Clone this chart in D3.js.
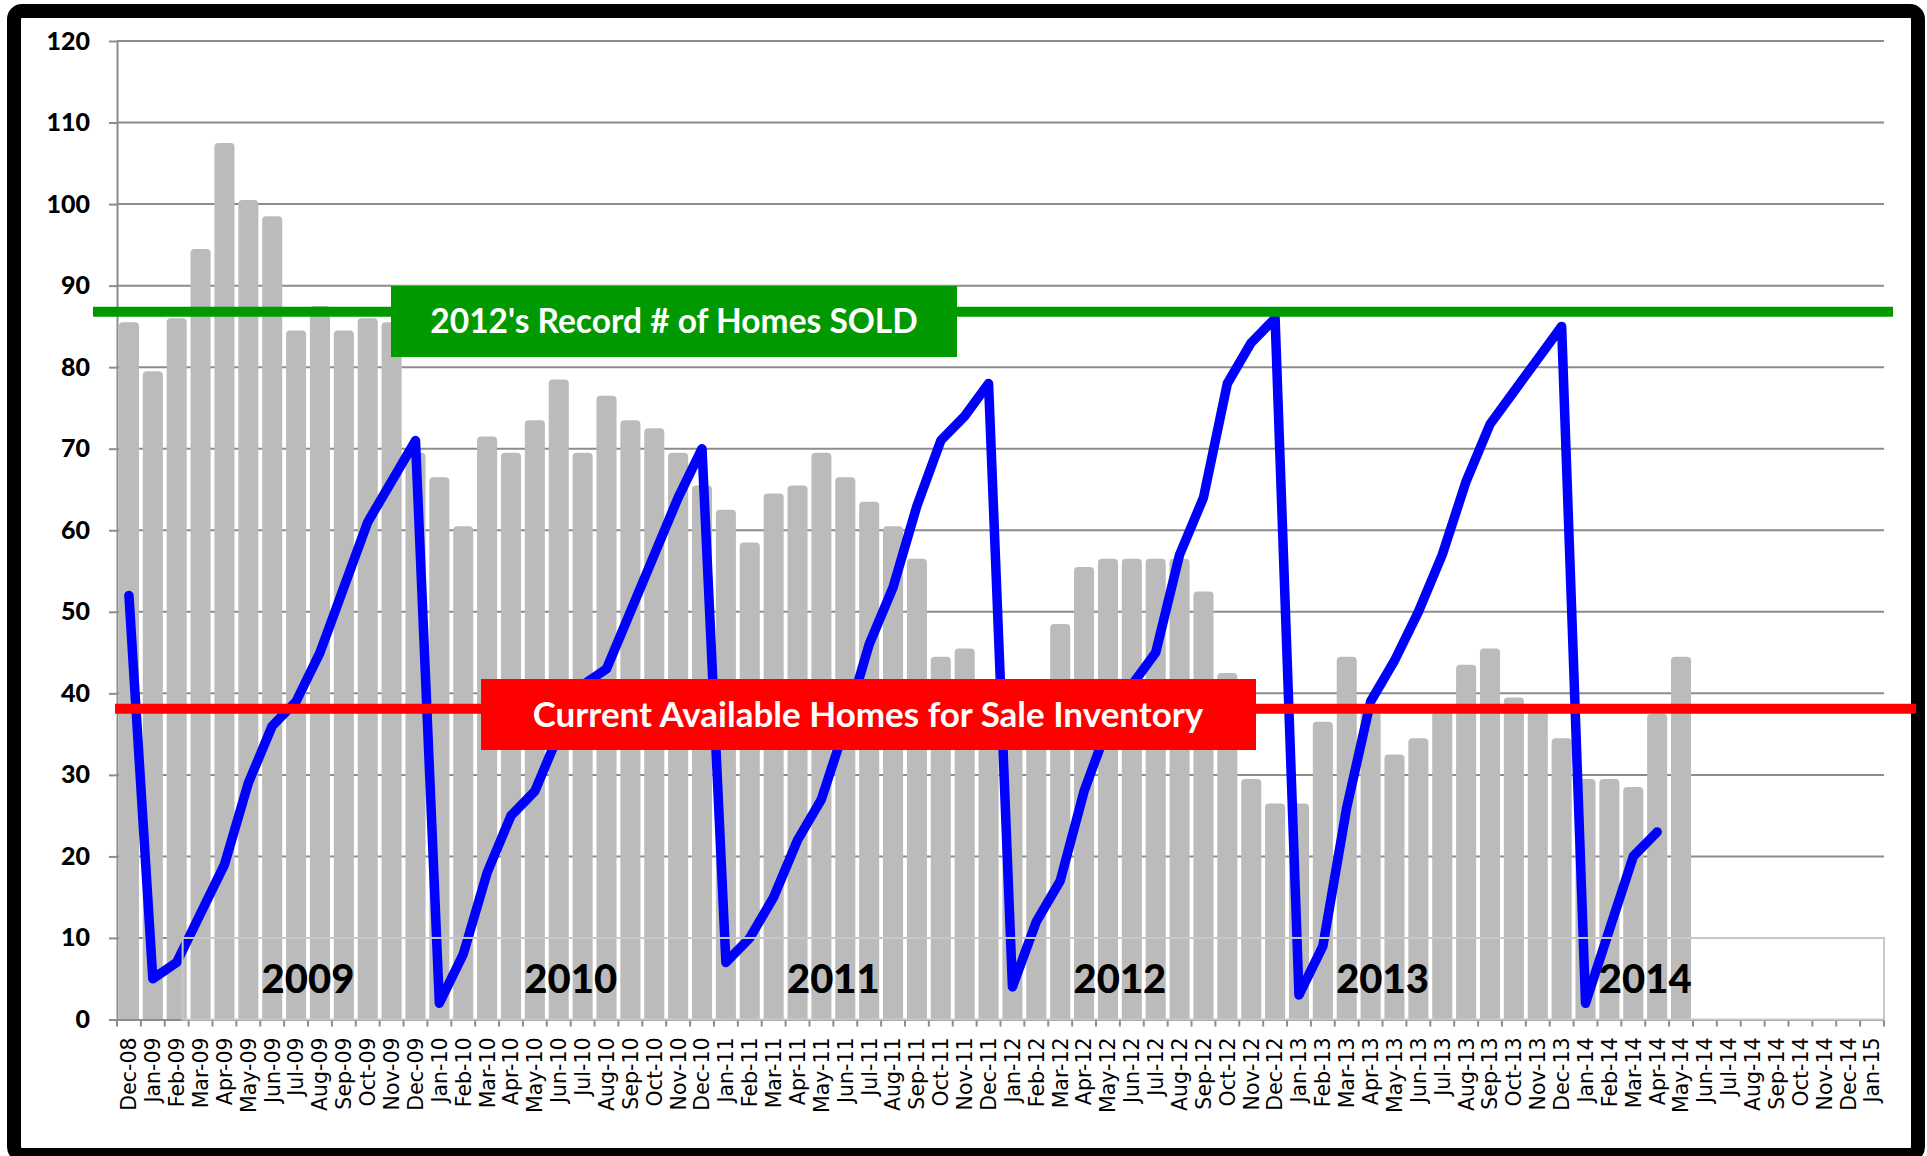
<!DOCTYPE html>
<html>
<head>
<meta charset="utf-8">
<script src="https://cdnjs.cloudflare.com/ajax/libs/d3/7.8.5/d3.min.js"></script>
<style>
    body { margin: 0; background: #fff; }
    svg { display: block; }
</style>
</head>
<body>
<div id="visualization"></div>
<script>
// categories (month labels on the x axis)
var months = [
    "Dec-08",
    "Jan-09", "Feb-09", "Mar-09", "Apr-09", "May-09", "Jun-09", "Jul-09", "Aug-09", "Sep-09", "Oct-09", "Nov-09", "Dec-09",
    "Jan-10", "Feb-10", "Mar-10", "Apr-10", "May-10", "Jun-10", "Jul-10", "Aug-10", "Sep-10", "Oct-10", "Nov-10", "Dec-10",
    "Jan-11", "Feb-11", "Mar-11", "Apr-11", "May-11", "Jun-11", "Jul-11", "Aug-11", "Sep-11", "Oct-11", "Nov-11", "Dec-11",
    "Jan-12", "Feb-12", "Mar-12", "Apr-12", "May-12", "Jun-12", "Jul-12", "Aug-12", "Sep-12", "Oct-12", "Nov-12", "Dec-12",
    "Jan-13", "Feb-13", "Mar-13", "Apr-13", "May-13", "Jun-13", "Jul-13", "Aug-13", "Sep-13", "Oct-13", "Nov-13", "Dec-13",
    "Jan-14", "Feb-14", "Mar-14", "Apr-14", "May-14", "Jun-14", "Jul-14", "Aug-14", "Sep-14", "Oct-14", "Nov-14", "Dec-14",
    "Jan-15"
];

// gray bars: homes for sale inventory (Dec-08 .. May-14)
var inventory = [
    85.5,
    79.5, 86, 94.5, 107.5, 100.5, 98.5, 84.5, 87.5, 84.5, 86, 85.5, 69.5,
    66.5, 60.5, 71.5, 69.5, 73.5, 78.5, 69.5, 76.5, 73.5, 72.5, 69.5, 65.5,
    62.5, 58.5, 64.5, 65.5, 69.5, 66.5, 63.5, 60.5, 56.5, 44.5, 45.5, 37,
    36, 37, 48.5, 55.5, 56.5, 56.5, 56.5, 56.5, 52.5, 42.5, 29.5, 26.5,
    26.5, 36.5, 44.5, 38, 32.5, 34.5, 38, 43.5, 45.5, 39.5, 38, 34.5,
    29.5, 29.5, 28.5, 37.5, 44.5
];

// blue line: cumulative homes sold in the year (Dec-08 .. Apr-14)
var sold = [
    52,
    5, 7, 13, 19, 29, 36, 39, 45, 53, 61, 66, 71,
    2, 8, 18, 25, 28, 35, 41, 43, 50, 57, 64, 70,
    7, 10, 15, 22, 27, 36, 46, 53, 63, 71, 74, 78,
    4, 12, 17, 28, 36, 41, 45, 57, 64, 78, 83, 86,
    3, 9, 26, 39, 44, 50, 57, 66, 73, 77, 81, 85,
    2, 11, 20, 23
];

var yTicks = [0, 10, 20, 30, 40, 50, 60, 70, 80, 90, 100, 110, 120];

var recordSold = 86.8;
var currentInventory = 38.1;

var yearLabels = ["2009", "2010", "2011", "2012", "2013", "2014"];
var yearAnchors = ["Aug-09", "Jul-10", "Jun-11", "Jun-12", "May-13", "Apr-14"];

(function () {
    var W = 1927, H = 1156;
    var plotLeft = 117, plotRight = 1884, plotTop = 41, plotBottom = 1019.5;

    var svg = d3.select('#visualization').append('svg')
        .attr('width', W)
        .attr('height', H);

    var x = d3.scaleBand().domain(months).range([plotLeft, plotRight]);
    var y = d3.scaleLinear().domain([0, 120]).range([plotBottom, plotTop]);
    var step = x.bandwidth();
    var barW = step * 0.84;

    // gridlines
    svg.append('g').selectAll('line')
        .data(yTicks.filter(function(d) { return d > 0; }))
        .join('line')
        .attr('x1', plotLeft).attr('x2', plotRight)
        .attr('y1', function(d) { return y(d); })
        .attr('y2', function(d) { return y(d); })
        .style('stroke', '#8c8c8c')
        .style('stroke-width', 2);

    // y axis
    var yAxis = svg.append('g')
        .attr('transform', 'translate(' + plotLeft + ',0)')
        .call(d3.axisLeft(y).tickValues(yTicks).tickSize(8).tickSizeOuter(0).tickPadding(19));
    yAxis.selectAll('.domain, .tick line').style('stroke', '#8c8c8c').style('stroke-width', 2);
    yAxis.selectAll('text')
        .style('font-family', 'Lato, sans-serif')
        .style('font-weight', '900')
        .style('font-size', '25px')
        .style('fill', '#000');

    // bars with rounded tops
    function barPath(x0, y0, w, h, r) {
        return 'M' + x0 + ',' + (y0 + h) +
            ' V' + (y0 + r) +
            ' Q' + x0 + ',' + y0 + ' ' + (x0 + r) + ',' + y0 +
            ' H' + (x0 + w - r) +
            ' Q' + (x0 + w) + ',' + y0 + ' ' + (x0 + w) + ',' + (y0 + r) +
            ' V' + (y0 + h) + ' Z';
    }
    svg.append('g').selectAll('path')
        .data(inventory)
        .join('path')
        .attr('d', function(d, i) {
            var x0 = x(months[i]) + (step - barW) / 2;
            return barPath(x0, y(d), barW, y(0) - y(d), 4);
        })
        .style('fill', '#bbbbbb');

    // x axis: boundary ticks + rotated labels
    var xAxis = svg.append('g')
        .attr('transform', 'translate(0,' + plotBottom + ')')
        .call(d3.axisBottom(x).tickSize(0).tickSizeOuter(0));
    xAxis.select('.domain').style('stroke', '#8c8c8c').style('stroke-width', 2);
    xAxis.selectAll('text')
        .attr('transform', 'rotate(-90)')
        .attr('x', -18)
        .attr('y', 0)
        .attr('dy', '0.36em')
        .style('text-anchor', 'end')
        .style('font-family', '"DejaVu Sans", Verdana, sans-serif')
        .style('font-size', '20.5px')
        .style('fill', '#000');

    svg.append('g').selectAll('line')
        .data(months.map(function(m) { return x(m); }).concat([plotRight]))
        .join('line')
        .attr('x1', function(d) { return d; }).attr('x2', function(d) { return d; })
        .attr('y1', plotBottom).attr('y2', plotBottom + 7)
        .style('stroke', '#8c8c8c')
        .style('stroke-width', 2);

    // sold line
    var line = d3.line()
        .x(function(d, i) { return x(months[i]) + step / 2; })
        .y(function(d) { return y(d); });
    svg.append('path')
        .datum(sold)
        .attr('d', line)
        .style('fill', 'none')
        .style('stroke', '#0000ff')
        .style('stroke-width', 9.5)
        .style('stroke-linejoin', 'round')
        .style('stroke-linecap', 'round');

    // 2012 record line and label
    svg.append('line')
        .attr('x1', 93).attr('x2', 1893)
        .attr('y1', y(recordSold)).attr('y2', y(recordSold))
        .style('stroke', '#009900')
        .style('stroke-width', 10);
    svg.append('rect')
        .attr('x', 391).attr('y', 286)
        .attr('width', 566).attr('height', 71)
        .style('fill', '#009900');
    svg.append('text')
        .attr('x', 674).attr('y', 333)
        .style('text-anchor', 'middle')
        .style('font-family', 'Lato, sans-serif')
        .style('font-weight', 'bold')
        .style('font-size', '33.5px')
        .style('fill', '#fff')
        .text("2012's Record # of Homes SOLD");

    // box around the year labels
    svg.append('rect')
        .attr('x', x("Mar-09") - 6).attr('y', y(10))
        .attr('width', plotRight - x("Mar-09") + 6).attr('height', y(0) - y(10))
        .style('fill', 'none')
        .style('stroke', '#c8c8c8')
        .style('stroke-width', 2);

    svg.append('g').selectAll('text')
        .data(yearLabels)
        .join('text')
        .attr('x', function(d, i) { return x(yearAnchors[i]); })
        .attr('y', 993)
        .style('text-anchor', 'middle')
        .style('font-family', 'Lato, sans-serif')
        .style('font-weight', '900')
        .style('font-size', '40px')
        .style('fill', '#000')
        .text(function(d) { return d; });

    // frame
    svg.append('rect')
        .attr('x', 14).attr('y', 11)
        .attr('width', 1904).attr('height', 1144)
        .attr('rx', 8)
        .style('fill', 'none')
        .style('stroke', '#000')
        .style('stroke-width', 14);

    // current inventory line and label
    svg.append('line')
        .attr('x1', 115).attr('x2', 1916)
        .attr('y1', y(currentInventory)).attr('y2', y(currentInventory))
        .style('stroke', '#ff0000')
        .style('stroke-width', 10);
    svg.append('rect')
        .attr('x', 481).attr('y', 679)
        .attr('width', 775).attr('height', 71)
        .style('fill', '#ff0000');
    svg.append('text')
        .attr('x', 868).attr('y', 727)
        .style('text-anchor', 'middle')
        .style('font-family', 'Lato, sans-serif')
        .style('font-weight', 'bold')
        .style('font-size', '35px')
        .style('fill', '#fff')
        .text("Current Available Homes for Sale Inventory");
})();
</script>
</body>
</html>
